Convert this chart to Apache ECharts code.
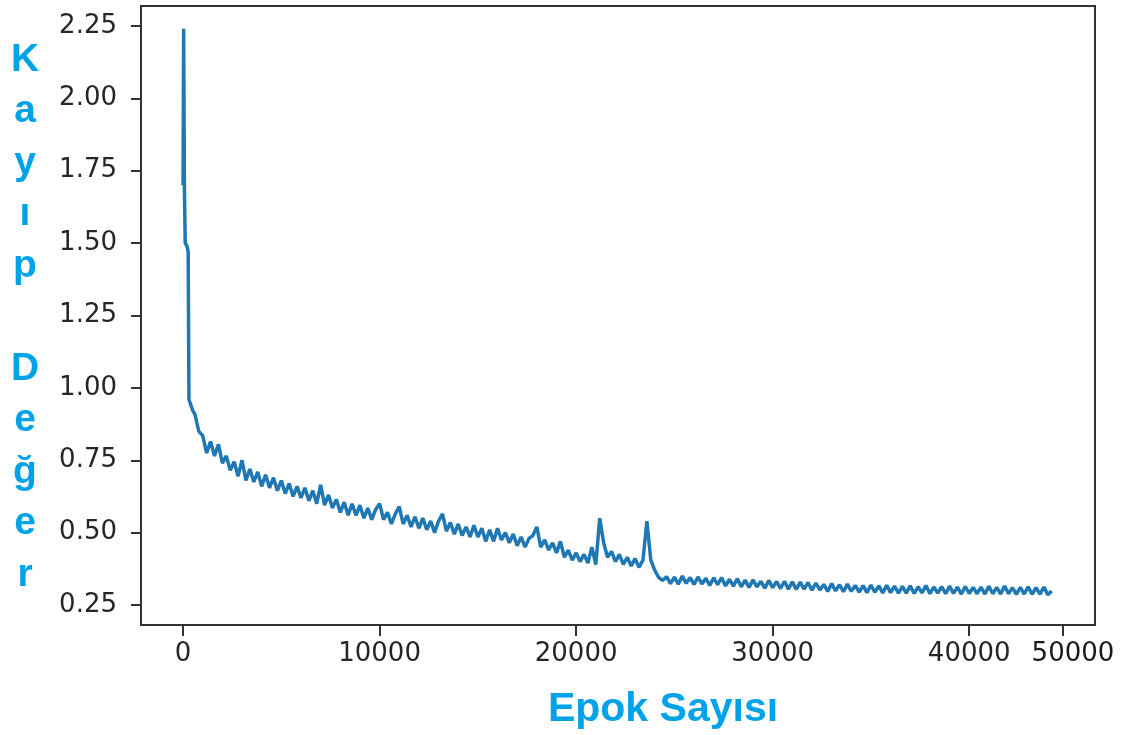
<!DOCTYPE html>
<html>
<head>
<meta charset="utf-8">
<script src="https://cdn.jsdelivr.net/npm/echarts@6/dist/echarts.min.js"></script>
<style>
html,body{margin:0;padding:0;background:#fff;}
#chart{width:1126px;height:735px;}
</style>
</head>
<body>
<div id="chart"></div>
<script>
// ---- data ----
const earlyEpochs = [0, 30, 70, 110, 200, 260, 300, 400, 500];
const earlyLoss   = [1.70, 2.24, 1.68, 1.50, 1.49, 1.47, 0.96, 0.94, 0.92];

const regularStart = 600;   // first epoch of the evenly sampled part
const regularStep  = 200;   // epochs between samples
const regularLoss = [
  0.91, 0.85, 0.835, 0.775, 0.815, 0.765, 0.805, 0.74, 0.765, 0.715,
  0.745, 0.695, 0.75, 0.68, 0.72, 0.675, 0.71, 0.66, 0.70, 0.655,
  0.69, 0.645, 0.68, 0.635, 0.67, 0.625, 0.66, 0.62, 0.655, 0.61,
  0.645, 0.60, 0.665, 0.595, 0.63, 0.585, 0.615, 0.57, 0.605, 0.56,
  0.60, 0.56, 0.595, 0.55, 0.585, 0.545, 0.58, 0.60, 0.545, 0.57,
  0.53, 0.565, 0.59, 0.53, 0.56, 0.52, 0.555, 0.515, 0.55, 0.51,
  0.54, 0.50, 0.54, 0.565, 0.505, 0.535, 0.495, 0.53, 0.49, 0.52,
  0.485, 0.525, 0.485, 0.515, 0.47, 0.51, 0.47, 0.515, 0.475, 0.50,
  0.465, 0.495, 0.455, 0.485, 0.45, 0.48, 0.49, 0.52, 0.45, 0.475,
  0.44, 0.465, 0.43, 0.47, 0.415, 0.44, 0.405, 0.43, 0.40, 0.425,
  0.395, 0.45, 0.39, 0.55, 0.465, 0.415, 0.435, 0.40, 0.425, 0.39,
  0.415, 0.385, 0.41, 0.38, 0.405, 0.54, 0.405, 0.37, 0.345, 0.335,
  0.348, 0.324, 0.346, 0.322, 0.35, 0.325, 0.345, 0.321, 0.347, 0.323,
  0.342, 0.318, 0.344, 0.32, 0.345, 0.316, 0.339, 0.315, 0.341, 0.313,
  0.336, 0.311, 0.337, 0.313, 0.332, 0.308, 0.335, 0.31, 0.331, 0.307,
  0.332, 0.305, 0.33, 0.304, 0.329, 0.305, 0.328, 0.301, 0.326, 0.302,
  0.321, 0.297, 0.324, 0.299, 0.32, 0.296, 0.322, 0.297, 0.318, 0.295,
  0.317, 0.293, 0.319, 0.294, 0.316, 0.292, 0.318, 0.293, 0.315, 0.291,
  0.314, 0.291, 0.316, 0.29, 0.313, 0.292, 0.317, 0.289, 0.312, 0.291,
  0.313, 0.289, 0.315, 0.29, 0.312, 0.288, 0.314, 0.29, 0.311, 0.289,
  0.312, 0.288, 0.315, 0.289, 0.311, 0.288, 0.316, 0.289, 0.31, 0.287,
  0.311, 0.288, 0.313, 0.287, 0.31, 0.288, 0.312, 0.286, 0.298
];

const xTickValues = [0, 10000, 20000, 30000, 40000];
const extraXTick = 44770;          // position of the odd "50000" label in the reference
const extraXTickLabel = '50000';
const yTickValues = [0.25, 0.50, 0.75, 1.00, 1.25, 1.50, 1.75, 2.00, 2.25];
const xName = 'Epok Sayısı';
const yNameLetters = ['K', 'a', 'y', 'ı', 'p', '', 'D', 'e', 'ğ', 'e', 'r'];

// ---- build series ----
const seriesData = [];
earlyEpochs.forEach((e, i) => seriesData.push([e, earlyLoss[i]]));
regularLoss.forEach((v, i) => seriesData.push([regularStart + i * regularStep, v]));

const chart = echarts.init(document.getElementById('chart'), null, {renderer: 'canvas'});
const tickFont = {fontFamily: 'DejaVu Sans', fontSize: 26, color: '#262626'};
const blue = '#00A2E8';

chart.setOption({
  animation: false,
  backgroundColor: '#fff',
  grid: {left: 141, right: 31, top: 6, bottom: 110, show: true, borderColor: '#333', borderWidth: 2, backgroundColor: 'transparent'},
  xAxis: {
    type: 'value',
    min: -2140, max: 46400,
    axisLine: {show: true, onZero: false, lineStyle: {color: '#333', width: 2}},
    axisTick: {show: true, inside: false, length: 11, lineStyle: {color: '#333', width: 2}, customValues: xTickValues.concat([extraXTick])},
    axisLabel: {
      ...tickFont, margin: 16,
      customValues: xTickValues.concat([extraXTick]),
      formatter: v => v === extraXTick ? '{o|' + extraXTickLabel + '}' : String(v),
      rich: {o: {fontFamily: 'DejaVu Sans', fontSize: 26, color: '#1a1a1a', padding: [0, 0, 0, 20]}}
    },
    splitLine: {show: false}
  },
  yAxis: {
    type: 'value',
    min: 0.181, max: 2.319,
    axisLine: {show: true, onZero: false, lineStyle: {color: '#333', width: 2}},
    axisTick: {show: true, inside: false, length: 10, lineStyle: {color: '#333', width: 2}, customValues: yTickValues},
    axisLabel: {...tickFont, margin: 24, customValues: yTickValues, formatter: v => v.toFixed(2)},
    splitLine: {show: false}
  },
  series: [{
    type: 'line',
    data: seriesData,
    showSymbol: false,
    symbol: 'none',
    lineStyle: {color: '#1f77b4', width: 3.5},
    itemStyle: {color: '#1f77b4'}
  }],
  graphic: [
    {
      type: 'text',
      style: {
        x: 25, y: 34,
        text: yNameLetters.join('\n'),
        fill: blue,
        font: 'bold 39px "Liberation Sans", Arial, sans-serif',
        lineHeight: 51.5,
        align: 'center',
        verticalAlign: 'top'
      }
    },
    {
      type: 'text',
      style: {
        x: 663, y: 710,
        text: xName,
        fill: blue,
        font: 'bold 41px "Liberation Sans", Arial, sans-serif',
        align: 'center',
        verticalAlign: 'middle'
      }
    }
  ]
});
</script>
</body>
</html>
